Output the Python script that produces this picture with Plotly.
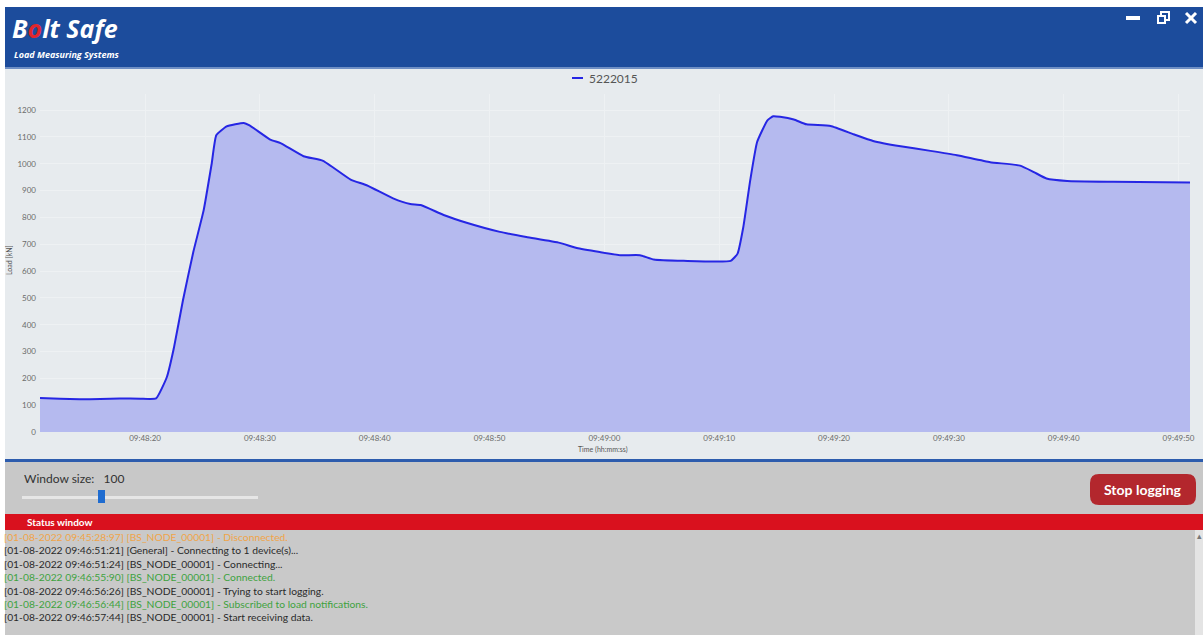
import datetime as dt
import plotly.graph_objects as go

W, H = 1203, 635          # design (reference) size in pixels
FW, FH = 1208, 640        # figure size (the viewer scales the page slightly)

# ---- data ----
series_name = "5222015"
# seconds after 09:48:00
t_sec = [10.85, 12.6, 14.3, 16.1, 17.8, 19.6, 20.96, 21.9, 22.5, 23.3, 24.2, 25.1, 25.8, 26.2,
         27.1, 28.6, 29.1, 30.9, 31.8, 33.8, 35.5, 37.9, 39.3, 41.6, 43.1, 44.0, 46.0, 48.0,
         50.9, 53.2, 56.1, 57.6, 59.6, 61.4, 63.1, 64.3, 66.9, 71.0, 71.6, 72.1, 72.7, 73.3,
         74.2, 74.7, 75.3, 76.5, 77.6, 79.7, 81.7, 83.4, 85.8, 88.4, 90.7, 93.6, 96.2, 97.4,
         98.5, 100.3, 104.3, 111.0]
load_kn = [127, 124, 122, 123, 125, 124, 125, 205, 311, 491, 671, 826, 1000, 1106,
           1139, 1152, 1143, 1090, 1077, 1028, 1011, 941, 920, 871, 850, 846, 809, 780,
           746, 727, 705, 686, 671, 659, 659, 643, 638, 638, 665, 764, 938, 1081,
           1162, 1177, 1175, 1165, 1147, 1141, 1110, 1085, 1065, 1048, 1032, 1006, 993, 969,
           945, 936, 933, 930]
y_ticks = list(range(0, 1300, 100))
status_lines = [
    ("[01-08-2022 09:45:28:97] [BS_NODE_00001] - Disconnected.", "#f0a448"),
    ("[01-08-2022 09:46:51:21] [General] - Connecting to 1 device(s)...", "#2a2a2a"),
    ("[01-08-2022 09:46:51:24] [BS_NODE_00001] - Connecting...", "#2a2a2a"),
    ("[01-08-2022 09:46:55:90] [BS_NODE_00001] - Connected.", "#3ea23e"),
    ("[01-08-2022 09:46:56:26] [BS_NODE_00001] - Trying to start logging.", "#2a2a2a"),
    ("[01-08-2022 09:46:56:44] [BS_NODE_00001] - Subscribed to load notifications.", "#3ea23e"),
    ("[01-08-2022 09:46:57:44] [BS_NODE_00001] - Start receiving data.", "#2a2a2a"),
]
window_size = 100

base = dt.datetime(2022, 8, 1, 9, 48, 0)
times = [base + dt.timedelta(seconds=s) for s in t_sec]
x_start = base + dt.timedelta(seconds=10.85)
x_end = base + dt.timedelta(seconds=111.0)


def px(x):
    return x / W


def py(y):
    return 1 - y / H


fig = go.Figure()
fig.add_trace(go.Scatter(
    x=times, y=load_kn, mode="lines", name=series_name,
    line=dict(color="#2626e4", width=2, shape="spline", smoothing=0.4),
    fill="tozeroy", fillcolor="#b5baef", showlegend=False,
))

shapes = []


def rect(x0, y0, x1, y1, color, layer="below"):
    shapes.append(dict(type="rect", xref="paper", yref="paper",
                       x0=px(x0), x1=px(x1), y0=py(y1), y1=py(y0),
                       fillcolor=color, line=dict(width=0), layer=layer))


def seg(x0, y0, x1, y1, color, width):
    shapes.append(dict(type="line", xref="paper", yref="paper",
                       x0=px(x0), x1=px(x1), y0=py(y0), y1=py(y1),
                       line=dict(color=color, width=width), layer="above"))


# background regions
rect(5, 7, W, 68, "#1c4c9c")
rect(5, 67, W, 69, "#6f8fc4")
rect(5, 69, W, 459, "#e7ebee")
rect(5, 459, W, 462, "#2d5cad")
rect(5, 462, W, 514, "#c8c8c8")
rect(5, 514, W, 530, "#d9111e")
rect(5, 530, W, H, "#c9c9c9")
rect(1195, 530, W, H, "#e4e4e4")

# slider
rect(22, 496, 258, 499, "#e6e6e6")
rect(98, 490, 105, 503, "#1f6cd0", layer="above")

# window controls
rect(1126, 16, 1140, 20, "#ffffff", layer="above")
shapes.append(dict(type="rect", xref="paper", yref="paper", x0=px(1161), x1=px(1169),
                   y0=py(20), y1=py(12), line=dict(color="white", width=2), layer="above"))
shapes.append(dict(type="rect", xref="paper", yref="paper", x0=px(1158), x1=px(1165),
                   y0=py(23), y1=py(16), line=dict(color="white", width=2), layer="above",
                   fillcolor="#1c4c9c"))
seg(1186, 13, 1196, 23, "white", 3)
seg(1196, 13, 1186, 23, "white", 3)

# legend swatch
seg(572, 78, 583, 78, "#2626e4", 2)


# stop logging button (rounded)
def rounded(x0, y0, x1, y1, r):
    X0, X1 = px(x0), px(x1)
    Y0, Y1 = py(y0), py(y1)
    rx, ry = r / W, r / H
    return (f"M {X0+rx},{Y0} L {X1-rx},{Y0} Q {X1},{Y0} {X1},{Y0-ry} "
            f"L {X1},{Y1+ry} Q {X1},{Y1} {X1-rx},{Y1} L {X0+rx},{Y1} "
            f"Q {X0},{Y1} {X0},{Y1+ry} L {X0},{Y0-ry} Q {X0},{Y0} {X0+rx},{Y0} Z")


shapes.append(dict(type="path", xref="paper", yref="paper", path=rounded(1090, 474, 1196, 505, 9),
                   fillcolor="#b3272d", line=dict(width=0), layer="above"))

annotations = []


def text(x, y, s, size, color, xanchor="left", family="Lato", angle=0, yanchor="middle"):
    annotations.append(dict(xref="paper", yref="paper", x=px(x), y=py(y), text=s,
                            showarrow=False, xanchor=xanchor, yanchor=yanchor,
                            font=dict(size=size, color=color, family=family),
                            textangle=angle))


# header text
text(10, 28, "<b><i>B<span style='color:#e0262e'>o</span>lt Safe</i></b>", 25, "white",
     family="Open Sans")
text(12, 54, "<b><i>Load Measuring Systems</i></b>", 9, "white", family="Open Sans")

# legend label
text(587, 78, series_name, 12, "#555555")

# axis titles
text(9, 260, "Load [kN]", 7, "#555555", xanchor="center", angle=-90)
text(603, 449, "Time (hh:mm:ss)", 7, "#555555", xanchor="center")

# controls
text(22, 478, f"Window size:   {window_size}", 12, "#333333")
text(1143, 489, "<b>Stop logging</b>", 14, "white", xanchor="center")
text(25, 522, "<b>Status window</b>", 10, "white")
text(1199, 536, "▴", 9, "#777777", xanchor="center", family="DejaVu Sans")

for i, (s, c) in enumerate(status_lines):
    text(2, 537 + i * 13.4, s, 10.3, c)

fig.update_layout(
    width=FW, height=FH, autosize=False,
    margin=dict(l=0, r=0, t=0, b=0),
    paper_bgcolor="white",
    plot_bgcolor="#e7ebee",
    shapes=shapes,
    annotations=annotations,
    showlegend=False,
    xaxis=dict(domain=[px(40), px(1190)], type="date", range=[x_start, x_end],
               tick0=base + dt.timedelta(seconds=20), dtick=10000, tickformat="%H:%M:%S",
               showgrid=True, gridcolor="#eef1f3", gridwidth=1, zeroline=False,
               tickfont=dict(size=8, color="#6b6b6b", family="Lato"), ticks="",
               showline=False, fixedrange=True),
    yaxis=dict(domain=[py(432), py(94)], range=[0, 1260], tickvals=y_ticks,
               showgrid=True, gridcolor="#eef1f3", gridwidth=1, zeroline=False,
               tickfont=dict(size=8, color="#6b6b6b", family="Lato"), ticks="",
               ticklabelstandoff=3, showline=False, fixedrange=True),
)

fig.write_html(
    "out.html",
    config={"displayModeBar": False},
    post_script="document.body.style.margin='0';document.body.style.overflow='hidden';",
)
